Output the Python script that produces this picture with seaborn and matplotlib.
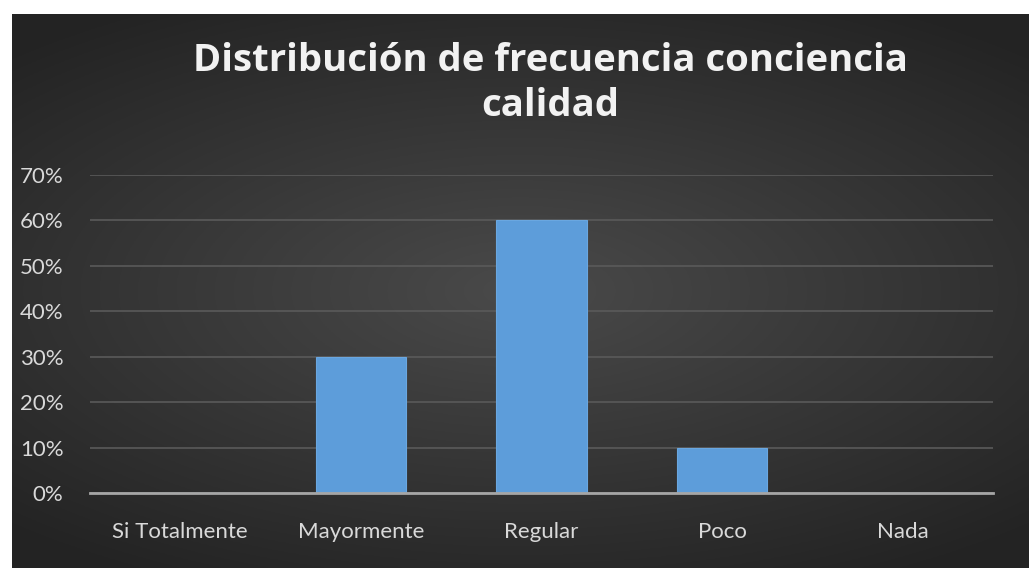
import numpy as np
import matplotlib
matplotlib.use("Agg")
import matplotlib.pyplot as plt
import seaborn as sns

# data
categorias = ["Si Totalmente", "Mayormente", "Regular", "Poco", "Nada"]
porcentajes = [0.0, 0.30, 0.60, 0.10, 0.0]
yticks = [0.0, 0.1, 0.2, 0.3, 0.4, 0.5, 0.6, 0.7]
titulo = "Distribución de frecuencia conciencia\ncalidad"

sns.set_theme(style="dark")
plt.rcParams["font.family"] = ["Lato", "DejaVu Sans"]

fig = plt.figure(figsize=(10.29, 5.68), dpi=100)
fig.patch.set_facecolor("white")

# dark radial background like the Excel chart style
bg = fig.add_axes([12 / 1029, 0, 1 - 12 / 1029, 1 - 14 / 568])
yy, xx = np.mgrid[-1:1:300j, -1:1:500j]
r = np.sqrt((xx * 0.9) ** 2 + (yy * 1.1) ** 2)
shade = 0.29 - 0.15 * np.clip(r, 0, 1.3) / 1.3
bg.imshow(np.dstack([shade] * 3), aspect="auto", extent=[0, 1, 0, 1])
bg.axis("off")

ax = fig.add_axes([90 / 1029, 1 - 493 / 568, 903 / 1029, 318 / 568])
ax.patch.set_alpha(0)
sns.barplot(x=categorias, y=porcentajes, color="#5d9dda", width=0.5,
            saturation=1, ax=ax)
for p in ax.patches:
    p.set_edgecolor("#6aa7e0")
    p.set_linewidth(0.8)

ax.set_ylim(0, 0.7)
ax.set_yticks(yticks)
ax.set_yticklabels([f"{int(round(v * 100))}%" for v in yticks])
ax.grid(axis="y", color="#5a5a5a", linewidth=1.2)
ax.grid(axis="x", visible=False)
ax.set_axisbelow(True)
for s in ["top", "right", "left"]:
    ax.spines[s].set_visible(False)
ax.spines["bottom"].set_color("#a6a6a6")
ax.spines["bottom"].set_linewidth(2)
ax.tick_params(axis="both", colors="#d9d9d9", labelsize=16, length=0)
ax.tick_params(axis="x", pad=21)
ax.tick_params(axis="y", pad=19)
ax.set_xlabel("")
ax.set_ylabel("")

fig.text(0.535, 0.853, titulo, ha="center", va="center", color="#f2f2f2",
         fontsize=27.5, fontweight="bold", linespacing=1.25,
         family=["Open Sans", "DejaVu Sans"])

fig.savefig("out.png", dpi=100)
